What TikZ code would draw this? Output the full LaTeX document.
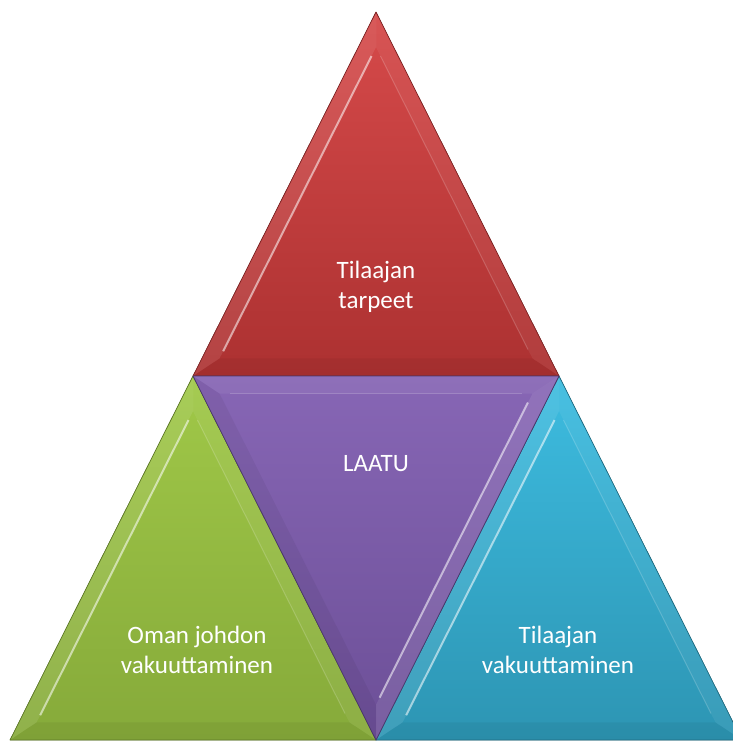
\documentclass[tikz,border=0pt]{standalone}
\usepackage{fontspec}
\setmainfont{Carlito}
\usetikzlibrary{calc}

\definecolor{punYla}{HTML}{D64A4A}
\definecolor{punAla}{HTML}{AC3131}
\definecolor{punReuna}{HTML}{7E2323}
\definecolor{vihYla}{HTML}{A0C848}
\definecolor{vihAla}{HTML}{86AA3A}
\definecolor{vihReuna}{HTML}{5E7A27}
\definecolor{sinYla}{HTML}{3DBCE0}
\definecolor{sinAla}{HTML}{2D95B3}
\definecolor{sinReuna}{HTML}{1F6C82}
\definecolor{vioYla}{HTML}{8766B5}
\definecolor{vioAla}{HTML}{6C4F97}
\definecolor{vioReuna}{HTML}{4E3A70}

\tikzset{
  punainen/.style={top color=punYla, bottom color=punAla},
  vihrea/.style={top color=vihYla, bottom color=vihAla},
  sininen/.style={top color=sinYla, bottom color=sinAla},
  violetti/.style={top color=vioYla, bottom color=vioAla},
  teksti/.style={text=white, align=center, font=\fontsize{25}{30}\selectfont},
}

% kolmio viistetyin reunoin: kärjet #1 #2 #3, täyttö #4, reunaviiva #5
\newcommand{\viistekolmio}[5]{%
  \fill[#4] (#1) -- (#2) -- (#3) -- cycle;
  \coordinate (g) at (barycentric cs:#1=1,#2=1,#3=1);
  \coordinate (#1i) at ($(g)!0.855!(#1)$);
  \coordinate (#2i) at ($(g)!0.855!(#2)$);
  \coordinate (#3i) at ($(g)!0.855!(#3)$);
  \fill[white, opacity=0.09] (#1) -- (#2) -- (#2i) -- (#1i) -- cycle;
  \fill[black, opacity=0.05] (#2) -- (#3) -- (#3i) -- (#2i) -- cycle;
  \fill[white, opacity=0.06] (#3) -- (#1) -- (#1i) -- (#3i) -- cycle;
  \draw[white, opacity=0.55, line width=2pt, shorten <=10pt, shorten >=8pt] (#1i) -- (#2i);
  \draw[white, opacity=0.18, line width=1pt, shorten <=10pt, shorten >=10pt] (#3i) -- (#1i);
  \draw[#5, line width=0.7pt, line join=round] (#1) -- (#2) -- (#3) -- cycle;
}

\begin{document}
\begin{tikzpicture}[x=1pt, y=-1pt]
  \useasboundingbox (0,0) rectangle (732,742);

  % kulmapisteet
  \coordinate (top) at (376,12);
  \coordinate (ml) at (193,376);
  \coordinate (mr) at (559,376);
  \coordinate (bl) at (10,740);
  \coordinate (bm) at (376,740);
  \coordinate (br) at (742,740);

  % neljä kolmiota
  \viistekolmio{top}{ml}{mr}{punainen}{punReuna}
  \viistekolmio{ml}{bl}{bm}{vihrea}{vihReuna}
  \viistekolmio{mr}{bm}{br}{sininen}{sinReuna}
  \viistekolmio{mr}{bm}{ml}{violetti}{vioReuna}

  % tekstit
  \node[teksti] (tarpeet) at (376,287) {Tilaajan\\tarpeet};
  \node[teksti] (laatu) at (376,464) {LAATU};
  \node[teksti] (johto) at (197,650) {Oman johdon\\vakuuttaminen};
  \node[teksti] (tilaaja) at (558,650) {Tilaajan\\vakuuttaminen};
\end{tikzpicture}
\end{document}
